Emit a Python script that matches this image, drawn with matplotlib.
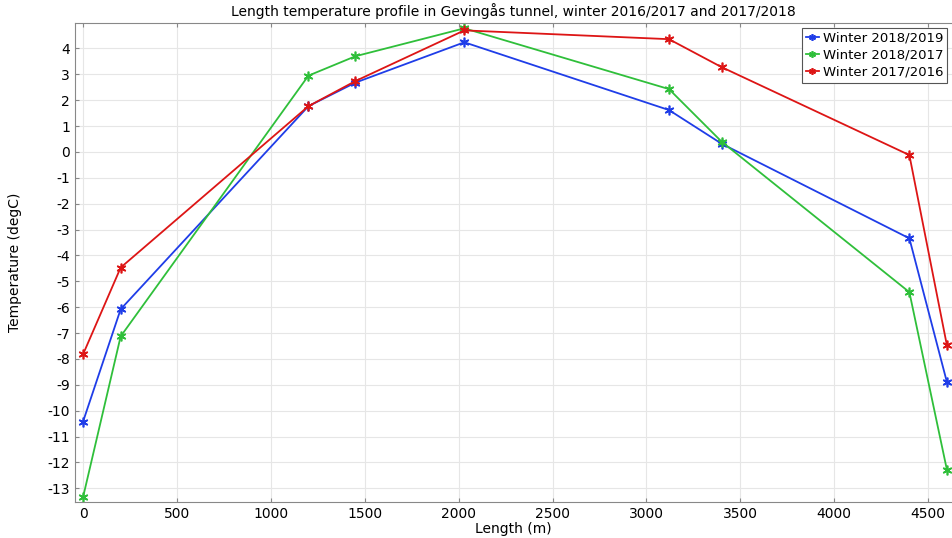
import numpy as np
import matplotlib.pyplot as plt

plt.rcParams['axes.unicode_minus'] = False

# positions along the tunnel (m)
length = [0, 200, 1200, 1450, 2030, 3120, 3400, 4400, 4600]

temp_1819 = [-10.42, -6.08, 1.77, 2.68, 4.24, 1.62, 0.32, -3.34, -8.9]
temp_1817 = [-13.34, -7.13, 2.95, 3.7, 4.78, 2.43, 0.4, -5.42, -12.29]
temp_1716 = [-7.82, -4.47, 1.77, 2.74, 4.7, 4.36, 3.28, -0.12, -7.48]

labels = ['Winter 2018/2019', 'Winter 2018/2017', 'Winter 2017/2016']
colors = ['#1f3de8', '#2fbf3a', '#dd1515']

fig = plt.figure(figsize=(9.52, 5.38), dpi=100)
ax = fig.add_axes([0.0788, 0.067, 0.9212, 0.890])

for t, lab, c in zip([temp_1819, temp_1817, temp_1716], labels, colors):
    ax.plot(length, t, color=c, marker=(6, 2, 0), markersize=7,
            markeredgewidth=1.2, linewidth=1.3, label=lab)

ax.set_xlim(-43, 4627)
ax.set_ylim(-13.53, 4.98)
ax.set_xticks(np.arange(0, 4501, 500))
ax.set_yticks(np.arange(-13, 5, 1))

ax.grid(True, color='#e6e6e6', linewidth=0.8)
ax.set_axisbelow(True)
for s in ['left', 'bottom', 'top']:
    ax.spines[s].set_color('#888888')
ax.spines['right'].set_visible(False)
ax.tick_params(direction='in', length=3, colors='#888888', labelcolor='black',
               labelsize=10, top=True)

ax.set_title('Length temperature profile in Gevingås tunnel, winter 2016/2017 and 2017/2018',
             fontsize=10, pad=5)
ax.set_xlabel('Length (m)', fontsize=10, labelpad=1)
ax.set_ylabel('Temperature (degC)', fontsize=10)
ax.yaxis.set_label_coords(-0.060, 0.5)

leg = ax.legend(loc='upper right', fontsize=9.5, fancybox=False, framealpha=1,
                edgecolor='#555555', handlelength=1.0, handletextpad=0.3,
                borderpad=0.3, labelspacing=0.3, borderaxespad=0.35,
                markerscale=0.7)
leg.get_frame().set_linewidth(0.8)

fig.savefig('out.png', dpi=100)
